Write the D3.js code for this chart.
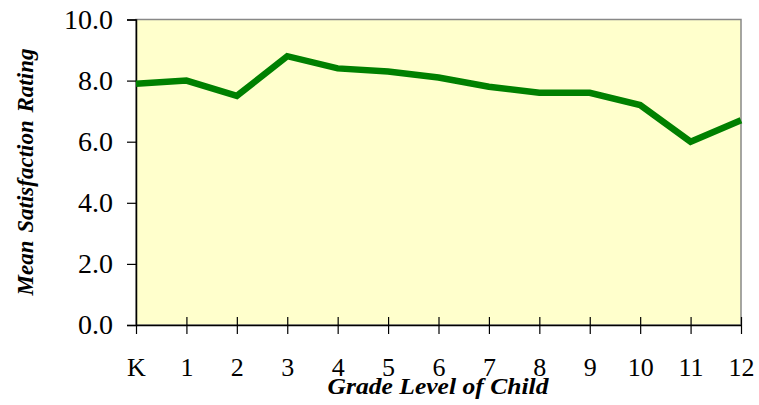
<!DOCTYPE html>
<html>
<head>
<meta charset="utf-8">
<script src="https://cdn.jsdelivr.net/npm/d3@7"></script>
<style>
  body { margin: 0; background: #fff; }
  text { font-family: "Liberation Serif", "Times New Roman", serif; }
</style>
</head>
<body>
<div id="chart"></div>
<script>
const grades = ['K', '1', '2', '3', '4', '5', '6', '7', '8', '9', '10', '11', '12'];
const ratings = [7.9, 8.0, 7.5, 8.8, 8.4, 8.3, 8.1, 7.8, 7.6, 7.6, 7.2, 6.0, 6.7];
const yTicks = [0, 2, 4, 6, 8, 10];

const width = 759;
const height = 405;
const margin = { top: 19.5, right: 18, bottom: 80, left: 136 };

const svg = d3.select('#chart')
  .append('svg')
  .attr('width', width)
  .attr('height', height)

const x = d3.scalePoint()
  .domain(grades)
  .range([margin.left, width - margin.right])

const y = d3.scaleLinear()
  .domain([0, 10])
  .range([height - margin.bottom, margin.top])

// plot background + frame
svg.append('rect')
  .attr('x', margin.left)
  .attr('y', margin.top)
  .attr('width', width - margin.right - margin.left)
  .attr('height', y(0) - margin.top)
  .attr('fill', '#ffffcc')
  .attr('stroke', '#888')
  .attr('stroke-width', 1.5)

// y axis
const yAxis = svg.append('g')
  .attr('transform', `translate(${margin.left},0)`)
  .call(d3.axisLeft(y).tickValues(yTicks).tickFormat(d3.format('.1f')).tickSize(9).tickPadding(14))
yAxis.select('.domain').attr('stroke', '#000').attr('stroke-width', 1.5)
yAxis.selectAll('.tick line').attr('stroke', '#000').attr('stroke-width', 1.2)
yAxis.selectAll('text')
  .attr('font-size', 28)
  .attr('font-family', '"Liberation Serif", serif')
  .attr('fill', '#000')

// x axis
const xAxis = svg.append('g')
  .attr('transform', `translate(0,${y(0)})`)
  .call(d3.axisBottom(x).tickSizeInner(9).tickSizeOuter(0))
xAxis.select('.domain').attr('stroke', '#000').attr('stroke-width', 1.5)
xAxis.selectAll('.tick line')
  .attr('y1', (d, i) => i === 0 ? 0 : -8)
  .attr('stroke', '#000')
  .attr('stroke-width', 1.2)
xAxis.selectAll('text')
  .attr('y', 51)
  .attr('dy', null)
  .attr('font-size', 26)
  .attr('font-family', '"Liberation Serif", serif')
  .attr('fill', '#000')

// line
const line = d3.line()
  .x((d, i) => x(grades[i]))
  .y(d => y(d))

svg.append('path')
  .datum(ratings)
  .attr('d', line)
  .attr('fill', 'none')
  .attr('stroke', '#008000')
  .attr('stroke-width', 6.5)
  .attr('stroke-linejoin', 'miter')

// titles
svg.append('text')
  .attr('x', 438)
  .attr('y', 394)
  .attr('text-anchor', 'middle')
  .attr('font-size', 23)
  .attr('font-weight', 'bold')
  .attr('font-style', 'italic')
  .attr('textLength', 221)
  .attr('lengthAdjust', 'spacingAndGlyphs')
  .text('Grade Level of Child')

svg.append('text')
  .attr('transform', 'translate(33,172) rotate(-90)')
  .attr('text-anchor', 'middle')
  .attr('font-size', 23)
  .attr('font-weight', 'bold')
  .attr('font-style', 'italic')
  .attr('word-spacing', 2)
  .text('Mean Satisfaction Rating')
</script>
</body>
</html>
